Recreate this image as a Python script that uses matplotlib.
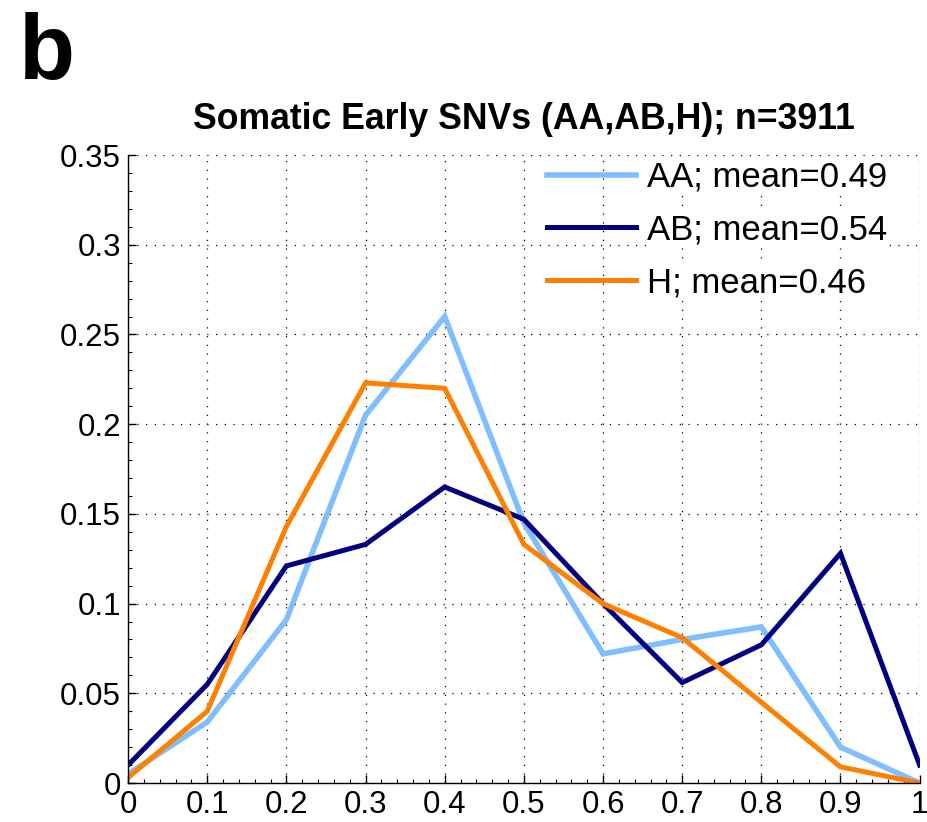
import matplotlib
matplotlib.use("Agg")
import matplotlib.pyplot as plt
from matplotlib.ticker import MultipleLocator

plt.rcParams['font.family'] = ['Liberation Sans', 'DejaVu Sans']

x = [0, 0.1, 0.2, 0.3, 0.4, 0.5, 0.6, 0.7, 0.8, 0.9, 1.0]
aa = [0.005, 0.034, 0.091, 0.205, 0.260, 0.145, 0.072, 0.080, 0.087, 0.020, 0.000]
ab = [0.010, 0.055, 0.121, 0.133, 0.165, 0.147, 0.100, 0.056, 0.077, 0.128, 0.010]
h = [0.003, 0.040, 0.143, 0.223, 0.220, 0.133, 0.100, 0.081, 0.045, 0.009, 0.000]
labels = ['AA; mean=0.49', 'AB; mean=0.54', 'H; mean=0.46']
title = 'Somatic Early SNVs (AA,AB,H); n=3911'
xticks = [0, 0.1, 0.2, 0.3, 0.4, 0.5, 0.6, 0.7, 0.8, 0.9, 1]
xticklabels = ['0', '0.1', '0.2', '0.3', '0.4', '0.5', '0.6', '0.7', '0.8', '0.9', '1']
yticks = [0, 0.05, 0.1, 0.15, 0.2, 0.25, 0.3, 0.35]
yticklabels = ['0', '0.05', '0.1', '0.15', '0.2', '0.25', '0.3', '0.35']

fig = plt.figure(figsize=(9.28, 8.22), dpi=100)
ax = fig.add_axes([0.138, 0.0474, 0.853, 0.764])

ax.plot(x, aa, color='#80BFFF', lw=4.0, label=labels[0], solid_joinstyle='miter')
ax.plot(x, ab, color='#000080', lw=3.6, label=labels[1], solid_joinstyle='miter')
ax.plot(x, h, color='#FF8000', lw=3.6, label=labels[2], solid_joinstyle='miter')

ax.set_xlim(0, 1)
ax.set_ylim(0, 0.35)
ax.set_xticks(xticks)
ax.set_xticklabels(xticklabels)
ax.set_yticks(yticks)
ax.set_yticklabels(yticklabels)
ax.xaxis.set_minor_locator(MultipleLocator(0.02))
ax.yaxis.set_minor_locator(MultipleLocator(0.01))
ax.tick_params(axis='both', which='major', direction='in', length=6, labelsize=22.5, width=1, pad=5)
ax.tick_params(axis='both', which='minor', direction='in', length=3, width=0.8)
ax.grid(True, which='major', linestyle=(0, (1, 6)), color='black', lw=0.9)
for s in ['top', 'right']:
    ax.spines[s].set_visible(False)
for s in ['left', 'bottom']:
    ax.spines[s].set_linewidth(1.0)

ax.set_title(title, fontsize=25.7, fontweight='bold', pad=19)

leg = ax.legend(loc='upper right', fontsize=25, frameon=False, handlelength=2.56,
                handletextpad=0.32, labelspacing=0.57, borderaxespad=0.0,
                bbox_to_anchor=(0.977, 1.013))
for t in leg.get_texts():
    t.set_bbox(dict(facecolor='white', edgecolor='none', pad=1))

fig.text(0.02, 0.985, 'b', fontsize=66, fontweight='bold', va='top', ha='left')

fig.savefig('out.png', dpi=100)
